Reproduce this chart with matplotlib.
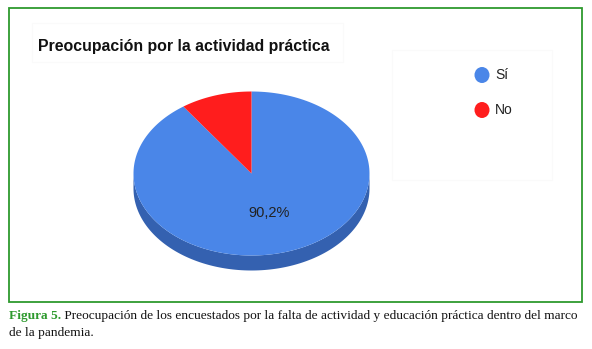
import numpy as np
import matplotlib.pyplot as plt
from matplotlib.patches import Polygon, Rectangle, Ellipse

# data
labels = ['Sí', 'No']
values = [90.2, 9.8]
colors = ['#4a86e8', '#ff1d1d']
side_colors = ['#3461b0', '#b81414']

title = 'Preocupación por la actividad práctica'
caption_head = 'Figura 5.'
caption_body = ' Preocupación de los encuestados por la falta de actividad y educación práctica dentro del marco'
caption_line2 = 'de la pandemia.'

# pie geometry (pixels)
CX, CY = 251.5, 173.5
RX, RY = 118, 82
DEPTH = 15

fig = plt.figure(figsize=(5.92, 3.49), dpi=100)
ax = fig.add_axes([0, 0, 1, 1])
ax.set_xlim(0, 592)
ax.set_ylim(349, 0)
ax.axis('off')

# frame
ax.add_patch(Rectangle((9, 8), 573, 294, fill=False, edgecolor='#2e9a2e', lw=1.3))
# faint panels
ax.add_patch(Rectangle((32, 23), 311, 39, fill=False, edgecolor='#fafafa', lw=0.8))
ax.add_patch(Rectangle((392, 50), 160, 130, fill=False, edgecolor='#fafafa', lw=0.8))


def arc(a0, a1, dy=0, n=200):
    t = np.radians(np.linspace(a0, a1, n))
    return np.column_stack([CX + RX * np.cos(t), CY - RY * np.sin(t) + dy])


total = sum(values)
angles = []
cum = 0
for v in values:
    a0 = 90 - cum / total * 360
    a1 = 90 - (cum + v) / total * 360
    angles.append((a1, a0))
    cum += v

# sides (front half, angles 180..360)
for (a1, a0), sc in zip(angles, side_colors):
    for shift in (-360, 0, 360):
        lo = max(a1 + shift, 180)
        hi = min(a0 + shift, 360)
        if hi > lo:
            top = arc(lo, hi)
            bot = arc(hi, lo, DEPTH)
            ax.add_patch(Polygon(np.vstack([top, bot]), closed=True, fc=sc, ec='none'))

# tops
for (a1, a0), c in zip(angles, colors):
    pts = np.vstack([[CX, CY], arc(a0, a1)])
    ax.add_patch(Polygon(pts, closed=True, fc=c, ec='none'))

# label of the big slice
a1, a0 = angles[0]
mid = np.radians((a0 + a1) / 2)
ax.text(CX + 0.5 * RX * np.cos(mid), CY - 0.5 * RY * np.sin(mid),
        f'{values[0]:.1f}%'.replace('.', ','), ha='center', va='center',
        fontsize=10.5, family='Liberation Sans', color='#222222')

ax.text(38, 46, title, fontsize=11.4, fontweight='bold', family='Liberation Sans',
        ha='left', va='center', color='#111111')

# legend
for i, (lab, c) in enumerate(zip(labels, colors)):
    y = 75 + i * 35
    ax.add_patch(Ellipse((482, y), 15, 16, fc=c, ec='none'))
    ax.text(495, y, lab, fontsize=10, family='Liberation Sans', ha='left', va='center',
            color='#222222')

# caption
t = ax.text(9, 316, caption_head, fontsize=9.6, family='Liberation Serif', fontweight='bold',
            color='#2e9a2e', ha='left', va='center')
fig.canvas.draw()
x_end = t.get_window_extent().x1
xd = ax.transData.inverted().transform((x_end, 0))[0]
ax.text(xd, 316, caption_body, fontsize=9.6, family='Liberation Serif',
        ha='left', va='center', color='#111111')
ax.text(9, 333, caption_line2, fontsize=9.6, family='Liberation Serif',
        ha='left', va='center', color='#111111')

fig.savefig('out.png', dpi=100, facecolor='white')
